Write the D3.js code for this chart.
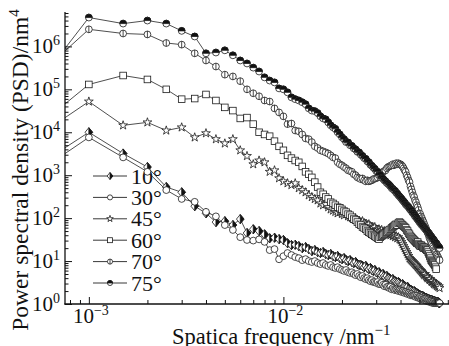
<!DOCTYPE html>
<html>
<head>
<meta charset="utf-8">
<script src="https://cdn.jsdelivr.net/npm/d3@7"></script>
<style>
  body { margin: 0; background: #fff; }
  svg { display: block; }
</style>
</head>
<body>
<div id="chart"></div>
<script>
// frequency grid: samples every 5e-4 nm^-1
const step = 5e-4;
const freq = d3.range(1, 128).map(n => n * step);

const psd10 = [1.3e3, 1.0e4, 3.2e3, 1.55e3, 5.3e2, 4.0e2, 1.9e2, 1.3e2, 81, 85,
  69, 95, 45, 55, 50, 42, 34, 35, 32.5, 31,
  26, 23.6, 24, 22.3, 20, 21.2, 19, 17.1, 18, 16.2,
  15.4, 16.2, 14.6, 13.8, 14.6, 13.1, 12.4, 13.1, 11.7, 11.1,
  11.7, 10.5, 10, 10.5, 9.5, 9.0, 9.5, 8.5, 8.1, 8.1,
  7.7, 7.2, 7.7, 6.9, 6.5, 6.9, 6.2, 5.9, 6.2, 5.5,
  5.3, 5.5, 5.0, 4.7, 5.0, 4.5, 4.2, 4.5, 4.0, 4.0,
  3.8, 3.6, 3.8, 3.4, 3.4, 3.25, 3.1, 3.25, 3.1, 2.9,
  2.8, 2.9, 2.6, 2.6, 2.5, 2.35, 2.5, 2.2, 2.2, 2.1,
  2.1, 2.0, 1.9, 2.0, 1.9, 1.8, 1.8, 1.7, 1.7, 1.6,
  1.6, 1.55, 1.55, 1.55, 1.45, 1.45, 1.38, 1.38, 1.38, 1.3,
  1.3, 1.3, 1.24, 1.24, 1.24, 1.24, 1.17, 1.17, 1.17, 1.17,
  1.11, 1.11, 1.11, 1.11, 1.11, 1.05, 1.05];

const psd30 = [9.0e2, 7.6e3, 2.6e3, 1.2e3, 4.5e2, 2.8e2, 2.4e2, 1.4e2, 1.1e2, 69,
  53, 36, 31, 30, 32, 28, 18, 19, 11, 13,
  15.4, 13.8, 12.4, 11.7, 10.5, 11.1, 10, 9.5, 10, 9.0,
  8.5, 9.0, 8.1, 7.7, 8.1, 7.2, 6.9, 7.2, 6.5, 6.2,
  5.9, 6.2, 5.5, 5.3, 5.5, 5.0, 4.7, 5.0, 4.5, 4.2,
  4.5, 4.0, 3.8, 4.0, 3.6, 3.4, 3.6, 3.25, 3.25, 3.1,
  3.25, 2.9, 2.9, 3.1, 2.8, 2.6, 2.8, 2.5, 2.5, 2.35,
  2.5, 2.2, 2.35, 2.2, 2.1, 2.2, 2.1, 2.0, 2.1, 2.0,
  1.9, 2.0, 1.9, 1.8, 1.9, 1.8, 1.7, 1.8, 1.7, 1.6,
  1.7, 1.6, 1.55, 1.6, 1.55, 1.45, 1.55, 1.45, 1.38, 1.45,
  1.38, 1.3, 1.38, 1.3, 1.3, 1.24, 1.3, 1.24, 1.17, 1.24,
  1.17, 1.17, 1.11, 1.17, 1.11, 1.11, 1.05, 1.11, 1.05, 1.05,
  1.05, 1.05, 1.05, 1.05, 1.05, 1.05, 1.05];

const psd45 = [6.2e3, 5.2e4, 1.45e4, 1.7e4, 1.1e4, 1.3e4, 7.6e3, 9.5e3, 6.9e3, 5.5e3,
  6.9e3, 3.8e3, 2.8e3, 1.8e3, 2.2e3, 2.0e3, 1.2e3, 1.3e3, 8.5e2, 7.2e2,
  6.5e2, 5.9e2, 6.5e2, 5.0e2, 4.5e2, 4.0e2, 3.4e2, 3.1e2, 2.8e2, 2.6e2,
  2.2e2, 2.0e2, 2.1e2, 1.8e2, 1.6e2, 1.5e2, 1.4e2, 1.3e2, 1.4e2, 1.25e2,
  117, 124, 111, 105, 100, 95, 100, 90, 85, 81,
  85, 77, 72, 69, 72, 65, 62, 59, 62, 55,
  53, 55, 50, 53, 47, 50, 45, 47, 42, 45,
  40, 42, 38, 40, 36, 38, 34, 36, 32.5, 30.8,
  27.7, 24.9, 22.3, 20, 18, 16.2, 14.6, 13.1, 11.7, 11.1,
  10.5, 10, 9.5, 9.0, 8.5, 8.1, 7.7, 7.2, 6.9, 6.5,
  6.2, 5.9, 5.5, 5.3, 5.0, 4.7, 5.0, 4.5, 4.2, 4.0,
  4.2, 3.8, 3.6, 3.8, 3.4, 3.25, 3.4, 3.1, 2.9, 3.1,
  2.8, 2.9, 2.6, 2.8, 2.5, 2.6, 2.35];

const psd60 = [1.0e4, 1.3e5, 2.1e5, 1.7e5, 1.0e5, 5.9e4, 6.1e4, 7.6e4, 5.5e4, 3.8e4,
  3.2e4, 2.1e4, 2.2e4, 1.55e4, 1.0e4, 8.9e3, 8.1e3, 6.2e3, 4.7e3, 3.8e3,
  2.9e3, 2.5e3, 2.2e3, 2.0e3, 1.6e3, 1.2e3, 1.05e3, 8.9e2, 6.9e2, 5.3e2,
  4.0e2, 3.6e2, 3.1e2, 2.8e2, 2.35e2, 2.2e2, 2.0e2, 1.8e2, 1.75e2, 1.6e2,
  146, 138, 124, 117, 105, 95, 90, 81, 72, 69,
  62, 59, 55, 50, 47, 45, 42, 40, 38, 36,
  34, 32.5, 36, 38, 40, 42, 45, 47, 50, 53,
  55, 59, 62, 65, 69, 72, 69, 77, 81, 77,
  72, 69, 65, 62, 59, 53, 50, 45, 42, 38,
  36, 34, 32.5, 30.8, 29.2, 27.7, 26.2, 27.7, 24.9, 23.6,
  22.3, 23.6, 22.3, 21.2, 20, 21.2, 20, 19, 18, 18,
  16.2, 14.6, 13.1, 11.7, 10.5, 10, 9.5, 9.0, 8.5, 8.1,
  7.2, 6.5];

const psd70 = [1.45e5, 2.5e6, 2.0e6, 1.9e6, 1.2e6, 1.1e6, 6.9e5, 4.7e5, 3.4e5, 2.2e5,
  2.0e5, 1.55e5, 1.0e5, 8.1e4, 6.9e4, 5.5e4, 5.2e4, 3.6e4, 2.9e4, 2.35e4,
  1.55e4, 1.6e4, 1.1e4, 1.05e4, 8.9e3, 7.2e3, 6.9e3, 5.9e3, 4.7e3, 4.3e3,
  3.8e3, 3.6e3, 3.4e3, 3.2e3, 2.9e3, 2.6e3, 2.5e3, 2.0e3, 1.8e3, 1.7e3,
  1.55e3, 1.45e3, 1.3e3, 1.25e3, 1.2e3, 1.05e3, 1.0e3, 8.9e2, 8.5e2, 8.1e2,
  8.4e2, 7.6e2, 7.2e2, 7.6e2, 7.2e2, 7.4e2, 7.6e2, 8.1e2, 8.3e2, 8.5e2,
  8.9e2, 1.0e3, 1.05e3, 1.1e3, 1.2e3, 1.25e3, 1.3e3, 1.45e3, 1.55e3, 1.6e3,
  1.65e3, 1.7e3, 1.8e3, 1.7e3, 1.8e3, 1.9e3, 1.8e3, 1.9e3, 1.8e3, 1.8e3,
  1.7e3, 1.6e3, 1.45e3, 1.3e3, 1.2e3, 1.0e3, 8.9e2, 7.6e2, 6.9e2, 5.5e2,
  4.7e2, 4.0e2, 3.4e2, 3.1e2, 2.6e2, 2.35e2, 2.0e2, 1.8e2, 1.55e2, 1.3e2,
  1.25e2, 1.1e2, 1.0e2, 89, 81, 72, 65, 59, 52, 47,
  43, 38, 34, 31, 28, 25, 22, 20, 18, 17,
  16, 14.5, 14, 13, 12, 11, 10.5];

const psd75 = [8.1e4, 4.7e6, 3.4e6, 4.0e6, 3.4e6, 2.3e6, 1.7e6, 6.9e5, 7.2e5, 8.1e5,
  6.2e5, 4.7e5, 4.0e5, 3.2e5, 2.6e5, 1.9e5, 1.6e5, 1.45e5, 1.05e5, 1.0e5,
  8.5e4, 6.5e4, 5.9e4, 5.5e4, 5.0e4, 4.5e4, 3.6e4, 3.2e4, 3.1e4, 2.8e4,
  2.35e4, 2.1e4, 2.0e4, 1.7e4, 1.45e4, 1.3e4, 1.2e4, 1.0e4, 8.9e3, 7.6e3,
  6.9e3, 5.9e3, 5.8e3, 5.0e3, 4.8e3, 4.2e3, 4.0e3, 3.5e3, 3.4e3, 3.0e3,
  2.8e3, 2.5e3, 2.4e3, 2.1e3, 2.0e3, 1.75e3, 1.65e3, 1.5e3, 1.4e3, 1.25e3,
  1.2e3, 1.0e3, 1.0e3, 8.7e2, 8.3e2, 7.6e2, 7.2e2, 6.6e2, 6.3e2, 5.9e2,
  5.5e2, 5.0e2, 4.8e2, 4.5e2, 4.3e2, 3.9e2, 3.7e2, 3.4e2, 3.2e2, 3.0e2,
  2.8e2, 2.6e2, 2.45e2, 2.3e2, 2.1e2, 2.0e2, 1.9e2, 1.8e2, 1.65e2, 1.55e2,
  1.5e2, 1.35e2, 1.3e2, 1.2e2, 1.1e2, 1.07e2, 98, 93, 87, 81,
  78, 72, 69, 66, 62, 60, 56, 54, 51, 48,
  46, 44, 41, 39, 37, 35, 33, 32, 30, 28,
  27, 26, 24.5, 23, 22, 21, 20];

const labels = ['10°', '30°', '45°', '60°', '70°', '75°'];
const shapes = ['diamond', 'circle', 'star', 'square', 'circleBar', 'circleHalf'];
const allValues = [psd10, psd30, psd45, psd60, psd70, psd75];
const yTickExp = [0, 1, 2, 3, 4, 5, 6];
const xTickExp = [-3, -2];

const serif = 'Liberation Serif';
const width = 449, height = 346;
const x = d3.scaleLog().domain([7.54e-4, 0.071]).range([65, 449]);
const y = d3.scaleLog().domain([1, 6e6]).range([304, 13]);

const svg = d3.select('#chart').append('svg')
  .attr('width', width)
  .attr('height', height);

svg.append('clipPath').attr('id', 'plot-clip')
  .append('rect').attr('x', 65).attr('y', 0).attr('width', 384).attr('height', height);

function drawShape(g, shape, k) {
  g.attr('stroke', '#1a1a1a').attr('stroke-width', 0.8);
  if (shape === 'diamond') {
    const h = 4.6 * k, w = 3.8 * k;
    g.append('path').attr('d', `M0,${-h}L${w},0L0,${h}L${-w},0Z`).attr('fill', '#fff');
    g.append('path').attr('d', `M0,${-h}L${w},0L0,${h}Z`).attr('fill', '#111');
  } else if (shape === 'star') {
    g.append('path').attr('d', d3.symbol(d3.symbolStar, 24 * k * k)()).attr('fill', '#fff');
  } else if (shape === 'square') {
    const s = 3.3 * k;
    g.append('rect').attr('x', -s).attr('y', -s).attr('width', 2 * s).attr('height', 2 * s).attr('fill', '#fff');
  } else {
    const r = 3.4 * k;
    g.append('circle').attr('r', r).attr('fill', '#fff');
    if (shape === 'circleBar') g.append('line').attr('y1', -r).attr('y2', r);
    if (shape === 'circleHalf') g.append('path').attr('d', `M${-r},0A${r},${r} 0 0 1 ${r},0Z`).attr('fill', '#111');
  }
}

function addText(parent) {
  return parent.append('text').attr('font-family', serif).attr('fill', '#111');
}

// legend (sits under the data)
const legend = svg.append('g');
labels.forEach((lab, i) => {
  const ly = 176 + i * 21.4;
  legend.append('line').attr('x1', 93).attr('x2', 127).attr('y1', ly).attr('y2', ly)
    .attr('stroke', '#222').attr('stroke-width', 0.9);
  drawShape(legend.append('g').attr('transform', `translate(110,${ly})`), shapes[i], 0.75);
  addText(legend).attr('x', 131).attr('y', ly + 7.5).attr('font-size', 22).text(lab);
});

// data
const plot = svg.append('g').attr('clip-path', 'url(#plot-clip)');
const line = d3.line().x(d => x(d[0])).y(d => y(d[1]));

allValues.forEach((vals, i) => {
  const pts = vals.map((v, j) => [freq[j], v]);
  plot.append('path').datum(pts)
    .attr('fill', 'none').attr('stroke', '#222').attr('stroke-width', 0.8)
    .attr('d', line);
  plot.append('g').selectAll('g')
    .data(pts)
    .join('g')
    .attr('transform', d => `translate(${x(d[0])},${y(d[1])})`)
    .each(function () { drawShape(d3.select(this), shapes[i], 1); });
});

// axes: inward ticks, minor and major
const isDecade = t => Math.abs(Math.log10(t) - Math.round(Math.log10(t))) < 1e-6;
const yTicks = y.ticks();
const xTicks = x.ticks();

svg.append('g').attr('transform', 'translate(65,0)')
  .call(d3.axisLeft(y).tickValues(yTicks.filter(t => !isDecade(t))).tickSize(-3.5).tickSizeOuter(0).tickFormat(''))
  .call(g => g.select('.domain').remove());
svg.append('g').attr('transform', 'translate(65,0)')
  .call(d3.axisLeft(y).tickValues(yTicks.filter(isDecade)).tickSize(-7).tickSizeOuter(0).tickFormat(''))
  .call(g => g.select('.domain').remove());
svg.append('g').attr('transform', 'translate(0,304)')
  .call(d3.axisBottom(x).tickValues(xTicks.filter(t => !isDecade(t))).tickSize(-4).tickSizeOuter(0).tickFormat(''))
  .call(g => g.select('.domain').remove());
svg.append('g').attr('transform', 'translate(0,304)')
  .call(d3.axisBottom(x).tickValues(xTicks.filter(isDecade)).tickSize(-7).tickSizeOuter(0).tickFormat(''))
  .call(g => g.select('.domain').remove());
svg.selectAll('.tick line').attr('stroke', '#111').attr('stroke-width', 1);

svg.append('line').attr('x1', 65).attr('x2', 65).attr('y1', 12).attr('y2', 304.6)
  .attr('stroke', '#111').attr('stroke-width', 1.3);
svg.append('line').attr('x1', 64.4).attr('x2', 449).attr('y1', 304).attr('y2', 304)
  .attr('stroke', '#111').attr('stroke-width', 1.3);

// tick labels
yTickExp.forEach(e => {
  const t = addText(svg).attr('x', 60).attr('y', y(10 ** e) + 7)
    .attr('text-anchor', 'end').attr('font-size', 21);
  t.append('tspan').text('10');
  t.append('tspan').attr('dy', -8).attr('font-size', 14).text(e);
});
xTickExp.forEach(e => {
  const t = addText(svg).attr('x', x(10 ** e) + 2).attr('y', 323)
    .attr('text-anchor', 'middle').attr('font-size', 21);
  t.append('tspan').text('10');
  t.append('tspan').attr('dy', -8).attr('font-size', 14).text('\u2212' + (-e));
});

// axis titles
const yTitle = addText(svg)
  .attr('transform', 'translate(28,170) rotate(-90)')
  .attr('text-anchor', 'middle').attr('font-size', 23.5);
yTitle.append('tspan').text('Power spectral density (PSD)/nm');
yTitle.append('tspan').attr('dy', -9).attr('font-size', 15).text('4');

const xTitle = addText(svg).attr('x', 172).attr('y', 344).attr('font-size', 22.5);
xTitle.append('tspan').text('Spatica frequency /nm');
xTitle.append('tspan').attr('dy', -9).attr('font-size', 15).text('\u22121');
</script>
</body>
</html>
